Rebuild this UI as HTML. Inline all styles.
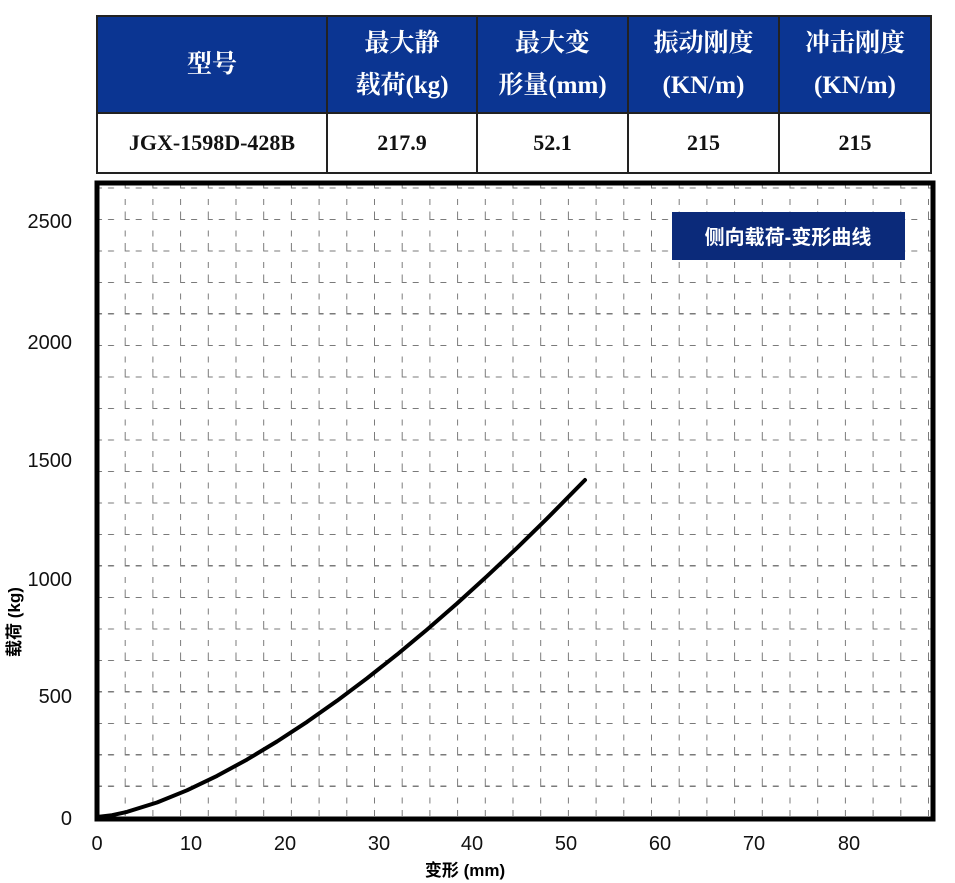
<!DOCTYPE html>
<html><head><meta charset="utf-8"><style>
body{margin:0;background:#fff;width:955px;height:883px;overflow:hidden;position:relative;font-family:"Liberation Serif","Noto Serif CJK SC",serif}
table{position:absolute;left:96px;top:15px;border-collapse:collapse;width:836px}
td{border:2px solid #222;text-align:center;font-weight:bold;font-size:25px;line-height:42px;padding:0}
tr.h td{background:#0b3592;color:#fff;height:95px}
tr.d td{height:58px;color:#111;font-size:22px}
</style></head><body>
<table>
<colgroup><col style="width:230px"><col style="width:150px"><col style="width:151px"><col style="width:151px"><col style="width:152px"></colgroup>
<tr class="h"><td>型号</td><td>最大静<br>载荷(kg)</td><td>最大变<br>形量(mm)</td><td>振动刚度<br>(KN/m)</td><td>冲击刚度<br>(KN/m)</td></tr>
<tr class="d"><td>JGX-1598D-428B</td><td>217.9</td><td>52.1</td><td>215</td><td>215</td></tr>
</table>
<svg width="955" height="883" style="position:absolute;left:0;top:0" font-family="Liberation Sans, DejaVu Sans, sans-serif">
<defs><pattern id="g" patternUnits="userSpaceOnUse" x="97" y="817" width="27.7" height="31.5">
<g stroke="#7a7a7a" stroke-width="2">
<line x1="0" y1="24.5" x2="0" y2="31.5"/><line x1="0" y1="0" x2="0" y2="1"/>
<line x1="0" y1="0.5" x2="5" y2="0.5"/>
<line x1="11" y1="0.5" x2="17" y2="0.5"/>
<line x1="0" y1="12" x2="0" y2="18"/>
</g></pattern></defs>
<rect x="99" y="185" width="832" height="631" fill="url(#g)"/>
<rect x="97" y="183" width="836" height="636" fill="none" stroke="#000" stroke-width="5"/>
<rect x="672" y="212" width="233" height="48" fill="#0b2a7a"/>
<text x="788" y="244" fill="#fff" font-size="20" font-weight="bold" text-anchor="middle" font-family="Liberation Sans, Noto Sans CJK SC, sans-serif">侧向载荷-变形曲线</text>
<polyline fill="none" stroke="#000" stroke-width="4" stroke-linejoin="round" stroke-linecap="round" points="97,817 112,815.2 127,811.9 157,802.5 187,790.3 217,775.9 247,759.6 277,741.5 307,721.9 337,700.8 367,678.3 397,654.6 427,629.6 457,603.5 487,576.2 517,547.9 547,518.6 585,480"/>
<g font-size="20" fill="#111" text-anchor="end">
<text x="72" y="228">2500</text><text x="72" y="349">2000</text><text x="72" y="467">1500</text>
<text x="72" y="586">1000</text><text x="72" y="703">500</text><text x="72" y="825">0</text>
</g>
<g font-size="20" fill="#111" text-anchor="middle">
<text x="97" y="850">0</text><text x="191" y="850">10</text><text x="285" y="850">20</text><text x="379" y="850">30</text>
<text x="472" y="850">40</text><text x="566" y="850">50</text><text x="660" y="850">60</text><text x="754" y="850">70</text><text x="849" y="850">80</text>
</g>
<text x="465" y="876" font-size="17" font-weight="bold" text-anchor="middle" font-family="Liberation Sans, Noto Sans CJK SC, sans-serif">变形 (mm)</text>
<text transform="translate(20,622) rotate(-90)" font-size="17" font-weight="bold" text-anchor="middle" font-family="Liberation Sans, Noto Sans CJK SC, sans-serif">载荷 (kg)</text>
</svg>
</body></html>
